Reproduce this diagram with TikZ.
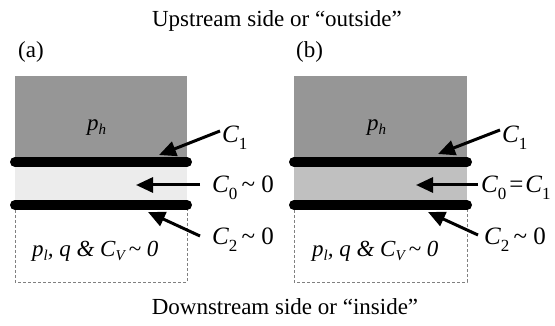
\documentclass[tikz,border=0pt]{standalone}
\usepackage{fontspec}
\setmainfont{Liberation Serif}
\usetikzlibrary{arrows.meta}
\newcommand\sbx[1]{\raisebox{-4pt}{\fontsize{15}{18}\selectfont #1}}
\newcommand\sbc[1]{\raisebox{-7pt}{\fontsize{17}{20}\selectfont #1}}
\newcommand\tld{\textasciitilde}
\definecolor{darkfill}{RGB}{150,150,150}
\definecolor{lightA}{RGB}{236,236,236}
\definecolor{lightB}{RGB}{192,192,192}
\begin{document}
\begin{tikzpicture}[x=1pt,y=-1pt,
  txt/.style={font=\fontsize{23}{28}\selectfont, inner sep=0pt},
  lbl/.style={txt, anchor=base west},
  clbl/.style={font=\fontsize{25}{30}\selectfont, inner sep=0pt, anchor=base west},
  bar/.style={line width=10pt, line cap=round},
  ptr/.style={line width=3pt, -{Triangle[length=17pt,width=15pt]}},
  dbox/.style={draw=gray, dash pattern=on 3pt off 2pt, line width=0.8pt}]
\useasboundingbox (0,0) rectangle (555,326);
% titles
\node[txt, anchor=base] (up) at (277,27) {Upstream side or \textquotedblleft outside\textquotedblright};
\node[txt, anchor=base] (down) at (285,315) {Downstream side or \textquotedblleft inside\textquotedblright};
\node[lbl] (la) at (18,58) {(a)};
\node[lbl] (lb) at (296,58) {(b)};
% ---------- panel (a)
\fill[darkfill] (15,76) rectangle (187,162);
\fill[lightA] (15,162) rectangle (187,205);
\draw[dbox] (15,205) -- (15,282) -- (187,282) -- (187,205);
\draw[bar] (15,162) -- (187,162);
\draw[bar] (15,205) -- (187,205);
\node[lbl] (aph) at (87,131) {\itshape p\sbx{h}};
\node[lbl] (apl) at (32,257) {\itshape p\sbx{l}, q \& C\sbx{V}\,\tld\ 0};
\node[clbl] (ac1) at (222,143) {\itshape C\sbc{\upshape 1}};
\node[clbl] (ac0) at (212,193) {\itshape C\sbc{\upshape 0}\upshape\,\tld\ 0};
\node[clbl] (ac2) at (212,245) {\itshape C\sbc{\upshape 2}\upshape\,\tld\ 0};
\coordinate (a1s) at (220,131); \coordinate (a1e) at (159,155);
\coordinate (a0s) at (200,185); \coordinate (a0e) at (136,185);
\coordinate (a2s) at (200,236); \coordinate (a2e) at (148,212);
\draw[ptr] (a1s) -- (a1e);
\draw[ptr] (a0s) -- (a0e);
\draw[ptr] (a2s) -- (a2e);
% ---------- panel (b)
\fill[darkfill] (294,76) rectangle (467,162);
\fill[lightB] (294,162) rectangle (467,205);
\draw[dbox] (294,205) -- (294,282) -- (467,282) -- (467,205);
\draw[bar] (294,162) -- (467,162);
\draw[bar] (294,205) -- (467,205);
\node[lbl] (bph) at (367,131) {\itshape p\sbx{h}};
\node[lbl] (bpl) at (312,257) {\itshape p\sbx{l}, q \& C\sbx{V}\,\tld\ 0};
\node[clbl] (bc1) at (502,143) {\itshape C\sbc{\upshape 1}};
\node[clbl] (bc0) at (481,193) {\itshape C\sbc{\upshape 0}\kern3pt\upshape=\kern2pt\itshape C\sbc{\upshape 1}};
\node[clbl] (bc2) at (484,245) {\itshape C\sbc{\upshape 2}\upshape\,\tld\ 0};
\coordinate (b1s) at (500,130); \coordinate (b1e) at (438,154);
\coordinate (b0s) at (478,185); \coordinate (b0e) at (416,185);
\coordinate (b2s) at (478,235); \coordinate (b2e) at (428,212);
\draw[ptr] (b1s) -- (b1e);
\draw[ptr] (b0s) -- (b0e);
\draw[ptr] (b2s) -- (b2e);
\end{tikzpicture}
\end{document}
